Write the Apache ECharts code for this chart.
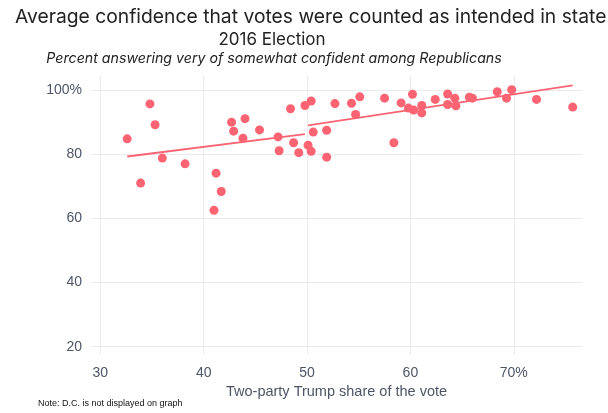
<!DOCTYPE html>
<html>
<head>
<meta charset="utf-8">
<script src="https://cdn.jsdelivr.net/npm/echarts@6/dist/echarts.min.js"></script>
<style>
  html, body { margin: 0; padding: 0; background: #fff; }
  #chart { width: 608px; height: 413px; }
</style>
</head>
<body>
<div id="chart"></div>
<script>
// Trump two-party share (%) and share of Republicans confident (%) per state
var trumpShare = [32.6, 33.9, 34.8, 35.3, 36.0, 38.2, 41.0, 41.2, 41.7, 42.7,
  42.9, 44.0, 43.8, 45.4, 47.2, 47.3, 48.4, 48.7, 49.2, 49.8,
  50.4, 50.1, 50.4, 50.6, 51.9, 51.9, 52.7, 54.3, 54.7, 55.1,
  57.5, 58.4, 59.1, 59.8, 60.2, 60.3, 61.1, 61.1, 62.4, 63.6,
  63.6, 64.3, 64.4, 65.7, 66.0, 68.4, 69.3, 69.8, 72.2, 75.7];
var confident = [84.8, 71.0, 95.7, 89.2, 78.8, 77.0, 62.5, 74.1, 68.4, 90.0,
  87.2, 91.1, 85.0, 87.6, 85.4, 81.1, 94.2, 83.6, 80.5, 95.2,
  96.6, 82.8, 80.9, 86.9, 87.5, 79.1, 95.8, 95.9, 92.4, 97.9,
  97.5, 83.6, 96.0, 94.4, 98.7, 93.8, 95.2, 92.9, 97.1, 95.5,
  98.8, 97.5, 95.1, 97.8, 97.5, 99.5, 97.5, 100.1, 97.1, 94.7];

// fitted lines, separately for states below and above 50%
var fitLow = [[32.6, 79.3], [49.8, 86.3]];
var fitHigh = [[50.1, 89.0], [75.7, 101.5]];

var xTicks = [30, 40, 50, 60, 70];
var yTicks = [20, 40, 60, 80, 100];

var red = '#FC6473';
var labelColor = '#4D5566';

var points = [];
for (var i = 0; i < trumpShare.length; i++) {
  points.push([trumpShare[i], confident[i]]);
}

var chart = echarts.init(document.getElementById('chart'));
chart.setOption({
  animation: false,
  title: [{
    text: 'Average confidence that votes were counted as intended in state',
    left: 10,
    top: 3,
    textStyle: { fontFamily: 'Inter', fontSize: 19.3, fontWeight: 'normal', color: '#222' }
  }, {
    text: '2016 Election',
    left: 267,
    textAlign: 'center',
    top: 26,
    textStyle: { fontFamily: 'Inter', fontSize: 17, fontWeight: 'normal', color: '#222' }
  }, {
    text: 'Percent answering very of somewhat confident among Republicans',
    left: 269,
    textAlign: 'center',
    top: 47,
    textStyle: { fontFamily: 'Inter', fontSize: 14.2, fontStyle: 'italic', fontWeight: 'normal', color: '#222' }
  }],
  graphic: [{
    type: 'text',
    left: 38,
    top: 399,
    style: { text: 'Note: D.C. is not displayed on graph', fontFamily: 'Liberation Sans', fontSize: 9, fill: '#111' }
  }],
  grid: { left: 91, right: 26, top: 76, bottom: 58 },
  xAxis: {
    type: 'value',
    min: 29.1,
    max: 76.6,
    minInterval: 10,
    maxInterval: 10,
    name: 'Two-party Trump share of the vote',
    nameLocation: 'middle',
    nameGap: 21,
    nameTextStyle: { fontFamily: 'Liberation Sans', fontSize: 14.5, color: labelColor },
    axisLine: { show: false },
    axisTick: { show: false },
    axisLabel: {
      margin: 11,
      fontFamily: 'Liberation Sans',
      fontSize: 14,
      color: labelColor,
      showMinLabel: false,
      showMaxLabel: false,
      formatter: function (v) {
        if (xTicks.indexOf(v) < 0) return '';
        return v === 70 ? '70%' : String(v);
      }
    },
    splitLine: { show: true, showMinLine: false, showMaxLine: false, lineStyle: { color: '#EBEBEB', width: 1 } }
  },
  yAxis: {
    type: 'value',
    min: 17.4,
    max: 104.4,
    minInterval: 20,
    maxInterval: 20,
    axisLine: { show: false },
    axisTick: { show: false },
    axisLabel: {
      margin: 9,
      fontFamily: 'Liberation Sans',
      fontSize: 14,
      color: labelColor,
      showMinLabel: false,
      showMaxLabel: false,
      formatter: function (v) {
        if (yTicks.indexOf(v) < 0) return '';
        return v === 100 ? '100%' : String(v);
      }
    },
    splitLine: { show: true, showMinLine: false, showMaxLine: false, lineStyle: { color: '#EBEBEB', width: 1 } }
  },
  series: [{
    type: 'scatter',
    data: points,
    symbolSize: 9,
    itemStyle: { color: red, opacity: 1 },
    z: 3
  }, {
    type: 'line',
    data: fitLow,
    showSymbol: false,
    lineStyle: { color: red, width: 1.8 },
    z: 2
  }, {
    type: 'line',
    data: fitHigh,
    showSymbol: false,
    lineStyle: { color: red, width: 1.8 },
    z: 2
  }]
});
</script>
</body>
</html>
